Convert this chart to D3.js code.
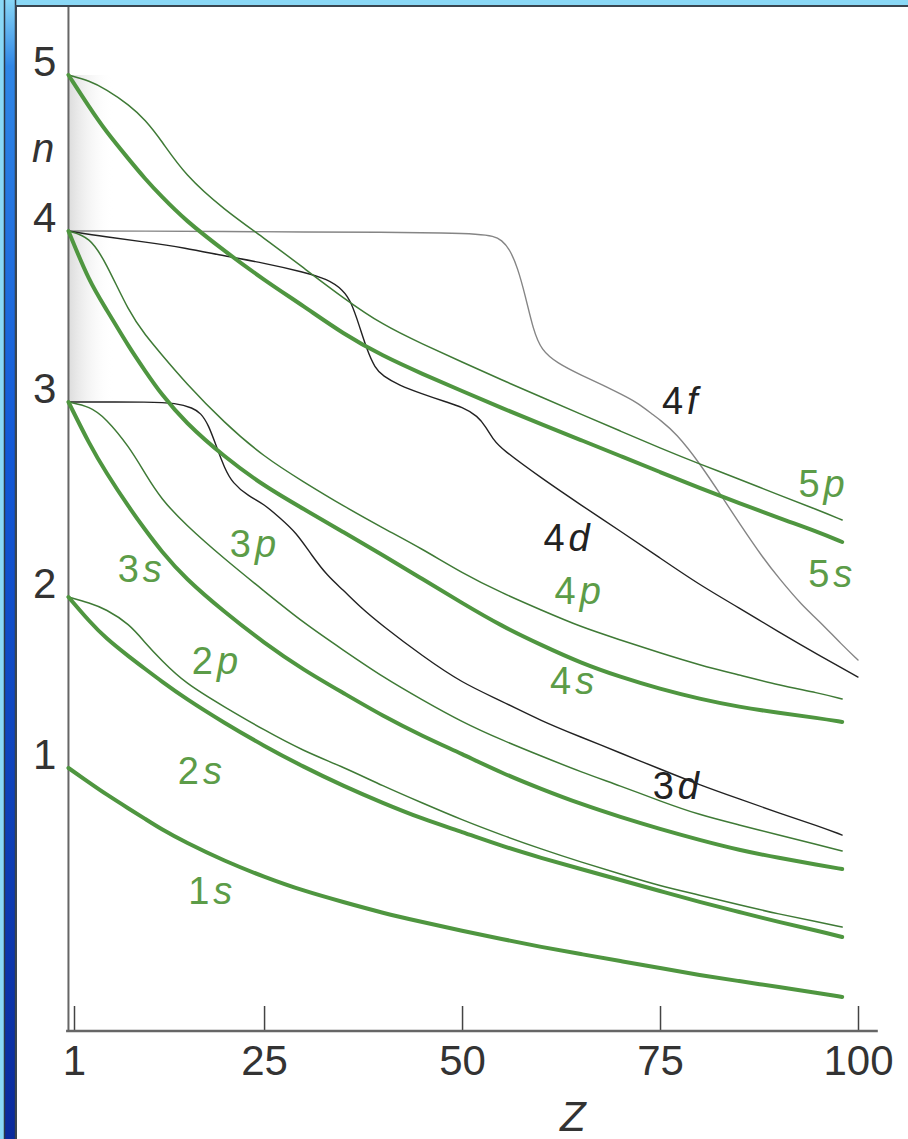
<!DOCTYPE html>
<html>
<head>
<meta charset="utf-8">
<script src="https://cdn.jsdelivr.net/npm/d3@7/dist/d3.min.js"></script>
<style>
  body { margin: 0; background: #8ad8f6; }
  svg { display: block; }
  text { font-family: 'Liberation Sans', Arial, sans-serif; }
</style>
</head>
<body>
<div id="chart"></div>
<script>
// ---- data ----
var xTicks = [1, 25, 50, 75, 100],
  yTicks = [1, 2, 3, 4, 5];

// common Z grid for the s and p curves
var zGrid = [0.3, 3, 5, 8, 10, 12, 15, 20, 25, 30, 35, 40, 45, 50, 55, 60, 65, 70, 75, 80, 85, 90, 95, 98];

var n1s = [1.00, 0.912, 0.848, 0.760, 0.702, 0.643, 0.567, 0.456, 0.363, 0.281, 0.216, 0.152, 0.099, 0.047, 0.000, -0.047, -0.088, -0.129, -0.170, -0.211, -0.246, -0.281, -0.316, -0.339];
var n2s = [2.00, 1.854, 1.760, 1.649, 1.579, 1.509, 1.409, 1.263, 1.129, 1.006, 0.895, 0.795, 0.702, 0.626, 0.544, 0.474, 0.409, 0.345, 0.281, 0.216, 0.158, 0.099, 0.047, 0.012];
var n2p = [2.00, 1.965, 1.930, 1.842, 1.731, 1.632, 1.497, 1.357, 1.222, 1.099, 1.006, 0.895, 0.795, 0.696, 0.608, 0.526, 0.450, 0.380, 0.310, 0.257, 0.199, 0.146, 0.099, 0.070];
var n3s = [3.00, 2.779, 2.641, 2.456, 2.344, 2.236, 2.097, 1.912, 1.731, 1.573, 1.439, 1.304, 1.187, 1.082, 0.971, 0.877, 0.789, 0.713, 0.643, 0.579, 0.520, 0.474, 0.433, 0.409];
var n3p = [3.00, 2.977, 2.918, 2.769, 2.631, 2.503, 2.374, 2.195, 2.031, 1.848, 1.690, 1.532, 1.398, 1.269, 1.164, 1.070, 0.977, 0.895, 0.807, 0.725, 0.667, 0.608, 0.550, 0.515];
var n4s = [4.00, 3.696, 3.550, 3.316, 3.181, 3.047, 2.897, 2.718, 2.569, 2.451, 2.333, 2.215, 2.092, 1.965, 1.830, 1.719, 1.614, 1.532, 1.462, 1.404, 1.357, 1.322, 1.292, 1.269];
var n4p = [4.00, 3.965, 3.819, 3.520, 3.392, 3.281, 3.117, 2.892, 2.718, 2.590, 2.467, 2.354, 2.246, 2.123, 2.021, 1.924, 1.825, 1.749, 1.673, 1.602, 1.544, 1.485, 1.439, 1.404];
var n5s = [5.00, 4.788, 4.641, 4.455, 4.333, 4.224, 4.071, 3.883, 3.713, 3.561, 3.398, 3.269, 3.164, 3.064, 2.969, 2.887, 2.805, 2.723, 2.641, 2.559, 2.482, 2.405, 2.333, 2.282];
var n5p = [5.00, 4.962, 4.910, 4.808, 4.712, 4.583, 4.359, 4.135, 3.959, 3.784, 3.608, 3.450, 3.339, 3.234, 3.129, 3.029, 2.938, 2.851, 2.764, 2.682, 2.605, 2.523, 2.446, 2.395];

// d and f curves have their own Z points (steps)
var z3d = [0.3, 5, 10, 14, 16, 17, 18, 19, 20, 21, 23, 25, 27, 29, 31, 33, 35, 37, 40, 45, 50, 55, 60, 65, 70, 75, 80, 85, 90, 95, 98];
var n3d = [3.00, 3.00, 3.00, 2.995, 2.969, 2.944, 2.882, 2.769, 2.662, 2.585, 2.518, 2.477, 2.405, 2.333, 2.215, 2.108, 2.036, 1.947, 1.830, 1.655, 1.497, 1.392, 1.275, 1.181, 1.088, 0.994, 0.901, 0.819, 0.737, 0.661, 0.608];
var z4d = [0.3, 5, 10, 15, 20, 25, 30, 33, 35, 36, 37, 38, 39, 40, 42, 45, 48, 50, 52, 53, 54, 55, 60, 65, 70, 75, 80, 85, 90, 95, 100];
var n4d = [4.00, 3.965, 3.936, 3.901, 3.854, 3.813, 3.760, 3.719, 3.655, 3.585, 3.450, 3.304, 3.199, 3.152, 3.099, 3.047, 3.000, 2.974, 2.928, 2.872, 2.805, 2.759, 2.610, 2.472, 2.338, 2.200, 2.062, 1.936, 1.795, 1.661, 1.532];
var z4f = [0.3, 10, 20, 30, 40, 48, 52, 54, 55, 56, 57, 58, 59, 60, 62, 65, 68, 70, 72, 74, 75, 77, 80, 83, 85, 88, 90, 93, 95, 98, 100];
var n4f = [4.00, 4.00, 3.997, 3.994, 3.994, 3.988, 3.982, 3.971, 3.947, 3.895, 3.789, 3.620, 3.421, 3.304, 3.228, 3.158, 3.094, 3.047, 3.000, 2.938, 2.908, 2.841, 2.687, 2.503, 2.379, 2.200, 2.097, 1.947, 1.865, 1.719, 1.632];

// curve labels: orbital name and where the label sits (Z, n)
var labelNames = ['1s', '2s', '2p', '3s', '3p', '3d', '4s', '4p', '4d', '4f', '5s', '5p'];
var labelZ = [18.2, 16.9, 18.8, 9.3, 23.6, 77.0, 63.9, 64.6, 63.2, 77.5, 96.5, 95.4];
var labelN = [0.287, 0.988, 1.632, 2.149, 2.277, 0.90, 1.515, 2.036, 2.308, 3.01, 2.123, 2.585];

// ---- layout ----
var W = 908, H = 1139,
  axisY = 1031, topY = 7,
  green = '#4f9640', greenText = '#5c9c48', dark = '#222';

var svg = d3.select('#chart')
  .append('svg')
  .attr('width', W)
  .attr('height', H);

var defs = svg.append('defs');

var barGrad = defs.append('linearGradient')
  .attr('id', 'bar')
  .attr('x1', 0).attr('y1', 0).attr('x2', 0).attr('y2', 1);
barGrad.append('stop').attr('offset', '0%').attr('stop-color', '#8ad8f6');
barGrad.append('stop').attr('offset', '6%').attr('stop-color', '#2f86e6');
barGrad.append('stop').attr('offset', '40%').attr('stop-color', '#1258d6');
barGrad.append('stop').attr('offset', '100%').attr('stop-color', '#0a2a9c');

var shade = defs.append('linearGradient')
  .attr('id', 'shade')
  .attr('x1', 0).attr('y1', 0).attr('x2', 1).attr('y2', 0);
shade.append('stop').attr('offset', '0%').attr('stop-color', '#dcdcdc');
shade.append('stop').attr('offset', '100%').attr('stop-color', '#ffffff').attr('stop-opacity', 0);

// frame
svg.append('rect').attr('width', W).attr('height', H).attr('fill', '#8ad8f6');
svg.append('rect')
  .attr('x', 4.5).attr('y', -2).attr('width', 11).attr('height', H + 4)
  .attr('fill', 'url(#bar)').attr('stroke', '#2d3a48').attr('stroke-width', 1.5);
svg.append('rect')
  .attr('x', 16).attr('y', 6).attr('width', W).attr('height', H)
  .attr('fill', '#fff').attr('stroke', '#3a4550').attr('stroke-width', 2);

// scales
var x = d3.scaleLinear().domain([1, 100]).range([74, 858]);
var y = d3.scaleLinear().domain(yTicks).range([768, 597, 402, 231, 75]);

// faint shading near the axis
svg.append('rect')
  .attr('x', x(0.3)).attr('y', y(5))
  .attr('width', x(6) - x(0.3)).attr('height', y(3) - y(5))
  .attr('fill', 'url(#shade)');

// axes
svg.append('line')
  .attr('x1', x(0.3)).attr('x2', x(0.3))
  .attr('y1', topY).attr('y2', axisY)
  .attr('stroke', '#666').attr('stroke-width', 2);

var xAxis = svg.append('g')
  .attr('transform', 'translate(0,' + axisY + ')')
  .call(d3.axisBottom(x).tickValues(xTicks).tickSizeInner(-25).tickSizeOuter(0).tickPadding(14));
xAxis.select('.domain').remove();
xAxis.selectAll('line').attr('stroke', '#444').attr('stroke-width', 1.5);
xAxis.selectAll('text').attr('font-size', 42).attr('fill', '#333')
  .attr('font-family', "'Liberation Sans', Arial, sans-serif");
svg.append('line')
  .attr('x1', x(0)).attr('x2', x(102.5))
  .attr('y1', axisY).attr('y2', axisY)
  .attr('stroke', '#666').attr('stroke-width', 2.5);

var yAxis = svg.append('g')
  .attr('transform', 'translate(' + x(0.3) + ',0)')
  .call(d3.axisLeft(y).tickValues(yTicks).tickFormat(d3.format('d')).tickSize(0).tickPadding(12));
yAxis.select('.domain').remove();
yAxis.selectAll('text').attr('font-size', 42).attr('fill', '#333')
  .attr('dy', '0em')
  .attr('font-family', "'Liberation Sans', Arial, sans-serif");

svg.append('text')
  .attr('x', 43).attr('y', 162)
  .attr('text-anchor', 'middle')
  .attr('font-size', 40).attr('font-style', 'italic').attr('fill', '#333')
  .text('n');

svg.append('text')
  .attr('x', x(64)).attr('y', 1131)
  .attr('text-anchor', 'middle')
  .attr('font-size', 42).attr('font-style', 'italic').attr('fill', '#333')
  .text('Z');

// curves
var line = d3.line()
  .x(function (d) { return x(d[0]); })
  .y(function (d) { return y(d[1]); })
  .curve(d3.curveBasis);

function pairs(zs, ns) {
  return zs.map(function (z, i) { return [z, ns[i]]; });
}

var curves = [
  { z: z4f, n: n4f, color: '#858585', width: 1.4 },
  { z: z4d, n: n4d, color: dark, width: 1.4 },
  { z: z3d, n: n3d, color: dark, width: 1.4 },
  { z: zGrid, n: n5p, color: '#3f7a36', width: 1.5 },
  { z: zGrid, n: n4p, color: '#3f7a36', width: 1.5 },
  { z: zGrid, n: n3p, color: '#3f7a36', width: 1.5 },
  { z: zGrid, n: n2p, color: '#3f7a36', width: 1.5 },
  { z: zGrid, n: n5s, color: green, width: 4 },
  { z: zGrid, n: n4s, color: green, width: 4 },
  { z: zGrid, n: n3s, color: green, width: 4 },
  { z: zGrid, n: n2s, color: green, width: 4 },
  { z: zGrid, n: n1s, color: green, width: 4 }
];

svg.selectAll('path.orbital')
  .data(curves)
  .enter()
  .append('path')
  .attr('class', 'orbital')
  .attr('d', function (d) { return line(pairs(d.z, d.n)); })
  .attr('fill', 'none')
  .attr('stroke', function (d) { return d.color; })
  .attr('stroke-width', function (d) { return d.width; })
  .attr('stroke-linecap', 'round');

// curve labels: digit upright, letter italic
var labels = svg.selectAll('text.orb')
  .data(labelNames)
  .enter()
  .append('text')
  .attr('class', 'orb')
  .attr('x', function (d, i) { return x(labelZ[i]); })
  .attr('y', function (d, i) { return y(labelN[i]); })
  .attr('dy', '0.36em')
  .attr('text-anchor', 'middle')
  .attr('font-size', 38)
  .attr('fill', function (d) { return /[df]/.test(d) ? dark : greenText; });

labels.append('tspan').text(function (d) { return d[0]; });
labels.append('tspan').attr('dx', 4).attr('font-style', 'italic').text(function (d) { return d[1]; });
</script>
</body>
</html>
